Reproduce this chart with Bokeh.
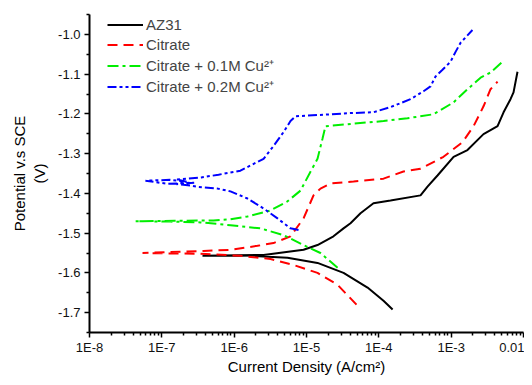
from bokeh.plotting import figure
from bokeh.models import FixedTicker, CustomJSTickFormatter, NumeralTickFormatter
from bokeh.embed import file_html
from bokeh.resources import INLINE

# ---- data: current density (A/cm^2) and potential (V vs SCE) ----
az31_i = [1.55e-4, 1.16e-4, 6.98e-5, 3.25e-5, 1.42e-5, 5.46e-6, 1.68e-6, 3.65e-7,
          2.55e-6, 9.10e-6, 1.42e-5, 2.36e-5, 3.25e-5, 4.06e-5, 5.58e-5, 8.43e-5,
          1.45e-4, 3.77e-4, 4.71e-4, 6.47e-4, 1.08e-3, 1.68e-3, 2.80e-3, 4.38e-3,
          5.30e-3, 6.61e-3, 7.28e-3, 8.26e-3]
az31_e = [-1.692, -1.670, -1.637, -1.600, -1.575, -1.562, -1.557, -1.557,
          -1.555, -1.542, -1.530, -1.508, -1.488, -1.475, -1.450, -1.425,
          -1.418, -1.405, -1.383, -1.355, -1.308, -1.291, -1.251, -1.231,
          -1.196, -1.163, -1.146, -1.094]

cit_i = [4.91e-5, 2.69e-5, 1.42e-5, 6.61e-6, 3.18e-6, 1.22e-6, 3.43e-7, 1.2e-7, 5.41e-8,
         1.1e-7, 3.77e-7, 8.89e-7, 2.10e-6, 3.50e-6, 6.01e-6, 9.10e-6, 1.25e-5, 1.56e-5,
         2.15e-5, 4.47e-5, 1.16e-4, 2.19e-4, 3.77e-4, 7.83e-4, 1.44e-3, 2.04e-3,
         2.80e-3, 3.50e-3, 4.38e-3]
cit_e = [-1.680, -1.630, -1.600, -1.580, -1.565, -1.557, -1.552, -1.551, -1.550,
         -1.548, -1.545, -1.542, -1.532, -1.525, -1.508, -1.463, -1.405, -1.388,
         -1.375, -1.370, -1.363, -1.345, -1.338, -1.308, -1.271, -1.231,
         -1.181, -1.138, -1.119]

cu01_i = [2.69e-5, 1.56e-5, 9.10e-6, 4.81e-6, 2.31e-6, 8.89e-7, 3.43e-7, 1.3e-7, 4.33e-8,
          1.5e-7, 5.18e-7, 8.89e-7, 1.53e-6, 3.18e-6, 5.46e-6, 8.26e-6, 1.14e-5, 1.42e-5,
          1.66e-5, 1.83e-5, 3.69e-5, 1.16e-4, 2.49e-4, 5.70e-4, 1.08e-3, 1.68e-3,
          2.55e-3, 3.50e-3, 5.13e-3]
cu01_e = [-1.587, -1.550, -1.530, -1.505, -1.488, -1.480, -1.473, -1.471, -1.470,
          -1.469, -1.468, -1.465, -1.458, -1.443, -1.420, -1.393, -1.345, -1.313,
          -1.263, -1.231, -1.226, -1.218, -1.211, -1.201, -1.171, -1.138,
          -1.109, -1.096, -1.069]

cu02_i = [7.76e-6, 6.01e-6, 3.97e-6, 2.55e-6, 1.53e-6, 8.89e-7, 5.89e-7, 3.2e-7, 2.49e-7,
          1.6e-7, 2.8e-7, 1.2e-7, 5.94e-8, 1.3e-7, 2.2e-7, 1.6e-7, 3.5e-7, 6.08e-7, 1.22e-6,
          2.55e-6, 3.50e-6, 4.81e-6, 6.01e-6, 7.05e-6, 1.42e-5, 4.06e-5, 8.43e-5, 1.45e-4,
          2.74e-4, 4.15e-4, 5.18e-4, 6.08e-4, 7.59e-4, 9.79e-4, 1.15e-3, 1.35e-3, 1.97e-3]
cu02_e = [-1.492, -1.488, -1.463, -1.438, -1.413, -1.395, -1.388, -1.384, -1.380,
          -1.377, -1.373, -1.376, -1.368, -1.366, -1.371, -1.365, -1.360, -1.353, -1.343,
          -1.313, -1.281, -1.246, -1.218, -1.206, -1.203, -1.198, -1.196, -1.183,
          -1.163, -1.143, -1.131, -1.106, -1.089, -1.069, -1.044, -1.021, -0.989]

series_labels = ["AZ31", "Citrate", "Citrate + 0.1M Cu\u00b2\u207a", "Citrate + 0.2M Cu\u00b2\u207a"]
x_major = [1e-8, 1e-7, 1e-6, 1e-5, 1e-4, 1e-3, 1e-2]
y_major = [-1.7, -1.6, -1.5, -1.4, -1.3, -1.2, -1.1, -1.0]
y_minor = [-1.75, -1.65, -1.55, -1.45, -1.35, -1.25, -1.15, -1.05, -0.95]
x_title = "Current Density (A/cm\u00b2)"
y_title = "Potential v.s SCE\n(V)"

FONT = "Liberation Sans"

p = figure(width=524, height=377, x_axis_type="log",
           x_range=(1e-8, 1e-2), y_range=(-1.75, -0.95),
           output_backend="svg", toolbar_location=None,
           min_border_left=89, min_border_right=1, min_border_top=14,
           min_border_bottom=42)
p.outline_line_color = None
p.grid.visible = False
p.background_fill_color = "white"
p.border_fill_color = "white"

x_minor = [k * d for d in x_major[:-1] for k in range(2, 10)]
p.xaxis.ticker = FixedTicker(ticks=x_major, minor_ticks=x_minor)
p.xaxis.formatter = CustomJSTickFormatter(
    code="const e = Math.round(Math.log10(tick)); return e == -2 ? '0.01' : '1E' + e;")
p.yaxis.ticker = FixedTicker(ticks=y_major, minor_ticks=y_minor)
p.yaxis.formatter = NumeralTickFormatter(format="0.0")

for ax in (p.xaxis[0], p.yaxis[0]):
    ax.axis_line_width = 2
    ax.axis_line_color = "black"
    ax.major_tick_line_width = 1.5
    ax.minor_tick_line_width = 1.5
    ax.major_tick_out = 5
    ax.major_tick_in = 0
    ax.minor_tick_out = 3
    ax.minor_tick_in = 0
    ax.major_label_text_font = FONT
    ax.major_label_text_font_size = "13px"
    ax.major_label_text_color = "#111111"
    ax.axis_label_text_font = FONT
    ax.axis_label_text_font_size = "15px"
    ax.axis_label_text_font_style = "normal"
    ax.axis_label_text_color = "black"

p.xaxis.axis_label = x_title
p.xaxis.major_label_standoff = 2
p.xaxis.axis_label_standoff = 0
p.yaxis.axis_label = y_title
p.yaxis.major_label_standoff = 4
p.yaxis.axis_label_standoff = 7

p.line(az31_i, az31_e, color="black", line_width=2, legend_label=series_labels[0])
p.line(cit_i, cit_e, color="#ff0000", line_width=2, line_dash="10 6", legend_label=series_labels[1])
p.line(cu01_i, cu01_e, color="#00ee00", line_width=2, line_dash="11 4 3 4", legend_label=series_labels[2])
p.line(cu02_i, cu02_e, color="#0000ff", line_width=2, line_dash="9 3 3 3 3 3", legend_label=series_labels[3])

lg = p.legend[0]
lg.location = (18, 236)
lg.margin = 0
lg.padding = 0
lg.spacing = 1
lg.label_height = 19
lg.glyph_height = 19
lg.glyph_width = 36
lg.label_standoff = 3
lg.label_text_font = FONT
lg.label_text_font_size = "15px"
lg.border_line_color = None
lg.background_fill_alpha = 0

open("out.html", "w").write(file_html(p, INLINE))
